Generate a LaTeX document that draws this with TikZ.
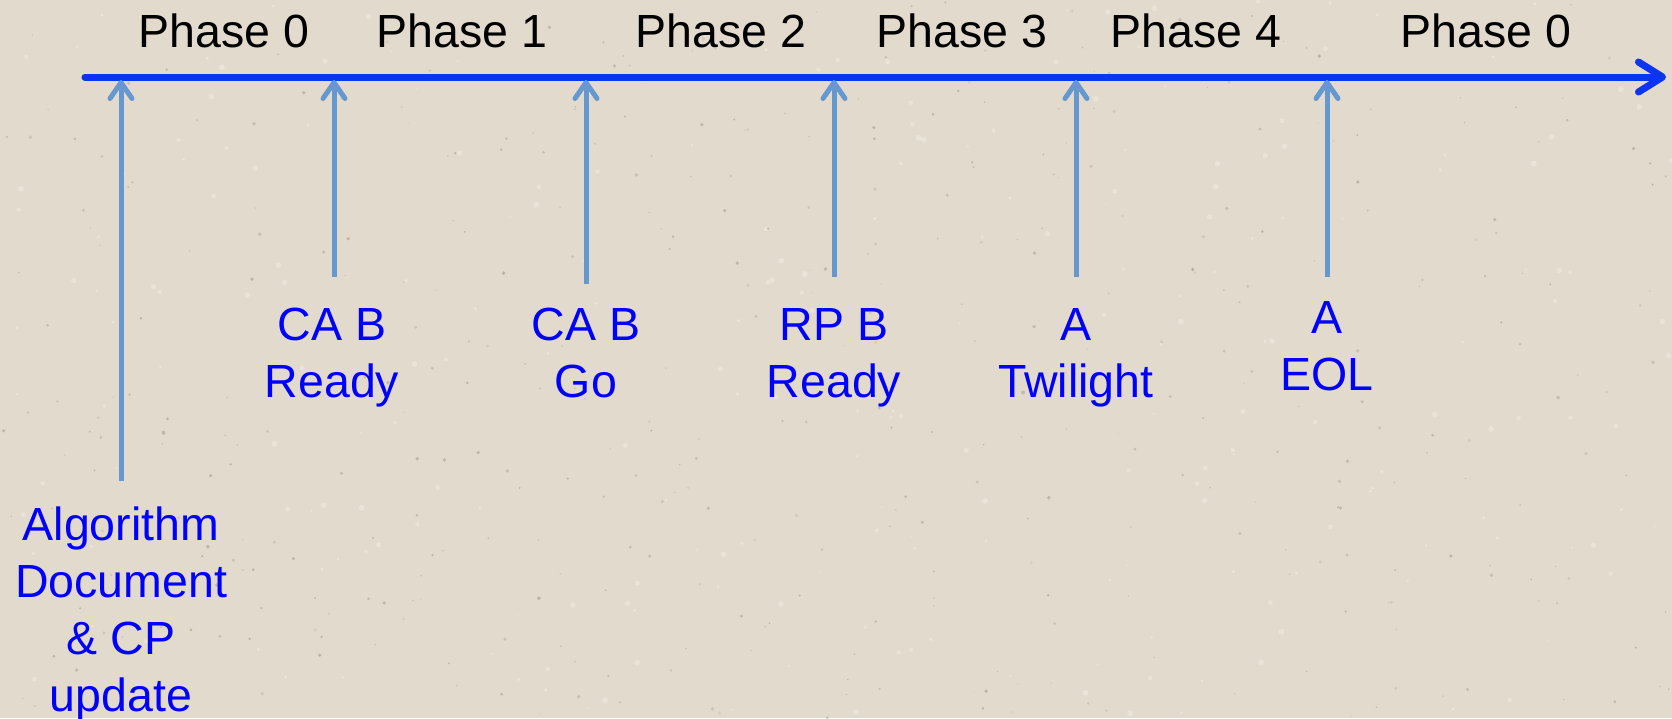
\documentclass[tikz,border=0pt]{standalone}
\usepackage{fontspec}
\setmainfont{Liberation Sans}
\usetikzlibrary{arrows.meta}
\definecolor{paper}{RGB}{226,218,204}
\definecolor{speck}{RGB}{150,140,125}
\definecolor{lineblue}{RGB}{12,52,245}
\definecolor{markblue}{RGB}{102,152,208}
\definecolor{labelblue}{RGB}{0,0,255}
\tikzset{
  timeline/.style={draw=lineblue, line width=7pt, line cap=round,
    -{Straight Barb[round, length=24pt, width=30pt]}},
  marker/.style={draw=markblue, line width=5pt,
    -{Straight Barb[round, length=16pt, width=22pt]}},
  phaselabel/.style={text=black, inner sep=0pt, anchor=base,
    font=\fontsize{46.5}{56}\selectfont},
  eventlabel/.style={text=labelblue, align=center, inner sep=0pt, anchor=north,
    font=\fontsize{46.5}{57}\selectfont},
}
\begin{document}
\begin{tikzpicture}[x=1pt, y=-1pt]
  % paper background
  \fill[paper] (0,0) rectangle (1672,718);
  \useasboundingbox (0,0) rectangle (1672,718);
  % faint paper grain
  \pgfmathsetseed{7}
  \foreach \i in {1,...,420} {
    \pgfmathsetmacro{\px}{rnd*1672}
    \pgfmathsetmacro{\py}{rnd*718}
    \pgfmathsetmacro{\pr}{0.6+rnd*1.4}
    \pgfmathsetmacro{\po}{0.15+rnd*0.35}
    \fill[speck, opacity=\po] (\px,\py) circle (\pr);
  }
  \foreach \i in {1,...,250} {
    \pgfmathsetmacro{\px}{rnd*1672}
    \pgfmathsetmacro{\py}{rnd*718}
    \pgfmathsetmacro{\pr}{1+rnd*2}
    \fill[white, opacity=0.25] (\px,\py) circle (\pr);
  }

  % timeline
  \coordinate (start) at (85,77);
  \coordinate (finish) at (1666,77);
  \draw[timeline, draw=black, opacity=0.18, shift={(1.5,3)}] (start) -- (finish);
  \draw[timeline] (start) -- (finish);

  % phase names
  \node[phaselabel] (ph0) at (224,47) {Phase 0};
  \node[phaselabel] (ph1) at (462,47) {Phase 1};
  \node[phaselabel] (ph2) at (721,47) {Phase 2};
  \node[phaselabel] (ph3) at (962,47) {Phase 3};
  \node[phaselabel] (ph4) at (1196,47) {Phase 4};
  \node[phaselabel] (ph5) at (1486,47) {Phase 0};

  % events
  \node[eventlabel] (alg) at (121,507) {Algorithm\\Document\\\& CP\\update};
  \node[eventlabel] (cardy) at (332,308) {CA B\\Ready};
  \node[eventlabel] (cago) at (586,308) {CA B\\Go};
  \node[eventlabel] (rprdy) at (834,308) {RP B\\Ready};
  \node[eventlabel] (twi) at (1076,308) {A\\Twilight};
  \node[eventlabel] (eol) at (1327,301) {A\\EOL};

  % event markers, from below up to the timeline
  \coordinate (b0) at (121,481); \coordinate (t0) at (121,80);
  \coordinate (b1) at (334,277); \coordinate (t1) at (334,80);
  \coordinate (b2) at (586,284); \coordinate (t2) at (586,80);
  \coordinate (b3) at (834,277); \coordinate (t3) at (834,80);
  \coordinate (b4) at (1076,277); \coordinate (t4) at (1076,80);
  \coordinate (b5) at (1327,277); \coordinate (t5) at (1327,80);
  \foreach \k in {0,...,5} {
    \draw[marker] (b\k) -- (t\k);
  }
\end{tikzpicture}
\end{document}
